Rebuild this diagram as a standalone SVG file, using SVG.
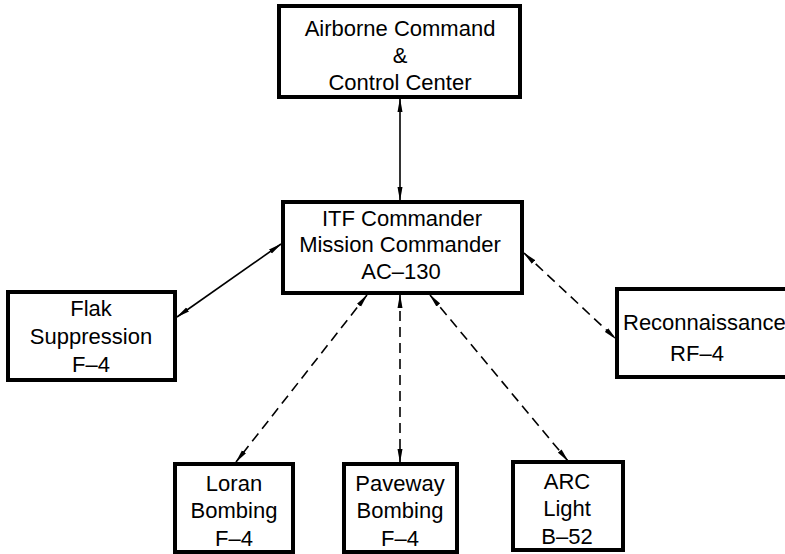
<svg xmlns="http://www.w3.org/2000/svg" width="785" height="554" viewBox="0 0 785 554">
<defs>
<marker id="ah" viewBox="0 0 14 6" refX="13" refY="3" markerWidth="14" markerHeight="6" markerUnits="userSpaceOnUse" orient="auto-start-reverse">
<path d="M0,0.5 L14,3 L0,5.5 Z" fill="#000"/>
</marker>
<style>
.box{fill:#fff;stroke:#000;stroke-width:4}
.t{font-family:"Liberation Sans",Arial,sans-serif;font-size:22px;fill:#000;text-anchor:middle}
.c{stroke:#000;stroke-width:1.6;fill:none;marker-start:url(#ah);marker-end:url(#ah)}
.d{stroke-dasharray:10 6}
</style>
</defs>
<rect width="785" height="554" fill="#fff"/>
<g id="connectors">
<line class="c" x1="400" y1="99" x2="400" y2="200"/>
<line class="c" x1="177" y1="317" x2="281" y2="244"/>
<line class="c d" x1="524" y1="253" x2="616" y2="339"/>
<line class="c d" x1="367" y1="295" x2="236" y2="462"/>
<line class="c d" x1="400" y1="295" x2="400" y2="462"/>
<line class="c d" x1="430" y1="295" x2="568" y2="461"/>
</g>
<g id="airborne">
<rect class="box" x="279" y="6" width="241" height="91"/>
<text class="t" x="400" y="36">Airborne Command</text>
<text class="t" x="400" y="63">&amp;</text>
<text class="t" x="400" y="90">Control Center</text>
</g>
<g id="itf">
<rect class="box" x="283" y="202" width="239" height="91"/>
<text class="t" x="402" y="226">ITF Commander</text>
<text class="t" x="400" y="252">Mission Commander</text>
<text class="t" x="401" y="279">AC–130</text>
</g>
<g id="flak">
<rect class="box" x="8" y="292" width="167" height="88"/>
<text class="t" x="91" y="316">Flak</text>
<text class="t" x="91" y="344">Suppression</text>
<text class="t" x="91" y="372">F–4</text>
</g>
<g id="recon">
<rect class="box" x="617" y="289" width="190" height="88"/>
<text class="t" x="623" y="330" style="text-anchor:start">Reconnaissance</text>
<text class="t" x="697" y="361">RF–4</text>
</g>
<g id="loran">
<rect class="box" x="175" y="464" width="118" height="88"/>
<text class="t" x="234" y="491">Loran</text>
<text class="t" x="234" y="518">Bombing</text>
<text class="t" x="234" y="546">F–4</text>
</g>
<g id="paveway">
<rect class="box" x="344" y="464" width="113" height="88"/>
<text class="t" x="400" y="491">Paveway</text>
<text class="t" x="400" y="518">Bombing</text>
<text class="t" x="400" y="546">F–4</text>
</g>
<g id="arc">
<rect class="box" x="513" y="462" width="110" height="88"/>
<text class="t" x="567" y="489">ARC</text>
<text class="t" x="567" y="516">Light</text>
<text class="t" x="567" y="544">B–52</text>
</g>
</svg>
